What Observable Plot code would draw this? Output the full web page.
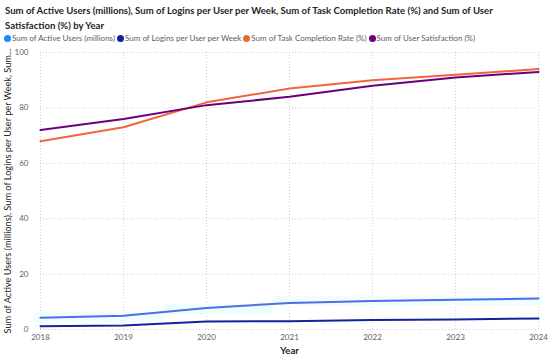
<!DOCTYPE html>
<html>
<head>
<meta charset="utf-8">
<script src="https://cdn.jsdelivr.net/npm/d3@7"></script>
<script src="https://cdn.jsdelivr.net/npm/@observablehq/plot@0.6"></script>
<style>
  html, body { margin: 0; padding: 0; background: #fff; }
  body { width: 550px; height: 355px; overflow: hidden; font-family: "Open Sans", "Noto Sans", sans-serif; }
  #title { position: absolute; left: 5px; top: 3px; width: 545px; font-size: 12px; font-weight: 700; color: #252423; line-height: 15px; font-family: Lato, sans-serif; white-space: nowrap; }
  #legend { position: absolute; left: 4px; top: 33px; font-size: 8px; color: #605e5c; white-space: nowrap; display: flex; align-items: center; font-family: Lato, sans-serif; }
  #legend span.item { display: inline-flex; align-items: center; margin-right: 2px; }
  #legend span.dot { width: 7px; height: 7px; border-radius: 50%; display: inline-block; margin-right: 1px; }
  #chart { position: absolute; left: 0; top: 45px; }
</style>
</head>
<body>
<div id="title"><span id="t1">Sum of Active Users (millions), Sum of Logins per User per Week, Sum of Task Completion Rate (%) and Sum of User</span><br><span>Satisfaction (%) by Year</span></div>
<div id="legend"></div>
<div id="chart"></div>
<script>
const years = [2018, 2019, 2020, 2021, 2022, 2023, 2024];
const seriesNames = [
  "Sum of Active Users (millions)",
  "Sum of Logins per User per Week",
  "Sum of Task Completion Rate (%)",
  "Sum of User Satisfaction (%)"
];
const activeUsers = [4.2, 5.0, 7.8, 9.6, 10.3, 10.7, 11.2];
const loginsPerWeek = [1.2, 1.4, 2.9, 3.0, 3.4, 3.6, 4.0];
const taskCompletion = [68, 73, 82, 87, 90, 92, 94];
const userSatisfaction = [72, 76, 81, 84, 88, 91, 93];
const legendColors = ["#118DFF", "#12239E", "#E66C37", "#6B007B"];
const lineColors = ["#4A6FE3", "#12239E", "#F0653A", "#6B007B"];
const yTicks = [0, 20, 40, 60, 80, 100];
// faint highlight band behind Active Users
const bandX1 = [2017.92, 2019.5, 2020.8];
const bandX2 = [2019.5, 2020.8, 2024.06];
const bandLow = [2.6, 5.2, 8.6];
const bandHigh = [6.2, 9.0, 12.0];

// fit title first line to reference width
const title = document.getElementById("title");
const t1 = document.getElementById("t1");
let fs = 12;
while (t1.getBoundingClientRect().width > 492 && fs > 8) { fs -= 0.1; title.style.fontSize = fs + "px"; }

const allValues = [activeUsers, loginsPerWeek, taskCompletion, userSatisfaction];
const rows = [];
seriesNames.forEach((s, i) => years.forEach((y, j) => rows.push({series: s, year: y, value: allValues[i][j]})));
const bands = bandX1.map((x1, i) => ({x1, x2: bandX2[i], y1: bandLow[i], y2: bandHigh[i]}));

const legend = document.getElementById("legend");
seriesNames.forEach((s, i) => {
  const it = document.createElement("span");
  it.className = "item";
  it.innerHTML = `<span class="dot" style="background:${legendColors[i]}"></span>${s}`;
  legend.appendChild(it);
});

const chart = Plot.plot({
  width: 550,
  height: 310,
  marginTop: 7,
  marginBottom: 26,
  marginLeft: 40,
  marginRight: 12,
  style: { fontFamily: "Lato, sans-serif", fontSize: "8px", color: "#605e5c", background: "white" },
  x: { domain: [2018, 2024], ticks: years, tickFormat: d => String(d), label: null, tickSize: 0, tickPadding: 5 },
  y: { domain: [0, 100], ticks: yTicks, label: null, tickSize: 0, tickPadding: 12 },
  color: { domain: seriesNames, range: lineColors },
  marks: [
    Plot.gridY(yTicks, { stroke: "#c8c6c4", strokeOpacity: 0.8, strokeDasharray: "1,2" }),
    Plot.gridX(years, { stroke: "#c8c6c4", strokeOpacity: 0.8, strokeDasharray: "1,2" }),
    Plot.rect(bands, { x1: "x1", x2: "x2", y1: "y1", y2: "y2", fill: "#f0fdff", fillOpacity: 1 }),
    Plot.axisX({ ticks: years, tickFormat: d => String(d), tickSize: 0, tickPadding: 5, label: null, fill: "#605e5c" }),
    Plot.axisY({ ticks: yTicks, tickSize: 0, tickPadding: 12, label: null, fill: "#605e5c" }),
    Plot.line(rows, { x: "year", y: "value", z: "series", stroke: "series", strokeWidth: 2 }),
    Plot.text(["Year"], { frameAnchor: "bottom", dy: 24, fontWeight: "bold", fontSize: 9.5, fill: "#252423" }),
    Plot.text(["Sum of Active Users (millions), Sum of Logins per User per Week, Sum..."], { frameAnchor: "left", dx: -32, rotate: -90, textAnchor: "middle", fontSize: 9.2, fill: "#252423" })
  ]
});
document.getElementById("chart").appendChild(chart);
</script>
</body>
</html>
